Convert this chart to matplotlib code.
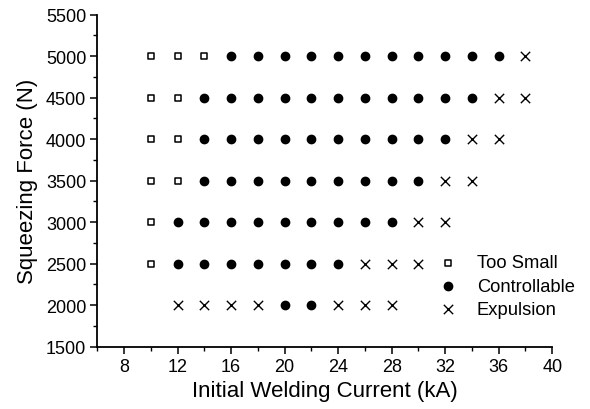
import matplotlib
matplotlib.use('Agg')
import matplotlib.pyplot as plt
from matplotlib.ticker import MultipleLocator

plt.rcParams['font.family'] = ['Liberation Sans', 'DejaVu Sans']

# Initial welding current (kA) / squeezing force (N) for each outcome
small_x = [10, 12, 14, 10, 12, 10, 12, 10, 12, 10, 10]
small_y = [5000, 5000, 5000, 4500, 4500, 4000, 4000, 3500, 3500, 3000, 2500]

ctrl_x = (list(range(16, 37, 2)) + list(range(14, 35, 2)) + list(range(14, 33, 2))
          + list(range(14, 31, 2)) + list(range(12, 29, 2)) + list(range(12, 25, 2))
          + [20, 22])
ctrl_y = ([5000] * 11 + [4500] * 11 + [4000] * 10 + [3500] * 9 + [3000] * 9
          + [2500] * 7 + [2000] * 2)

exp_x = [38, 36, 38, 34, 36, 32, 34, 30, 32, 26, 28, 30, 12, 14, 16, 18, 24, 26, 28]
exp_y = [5000, 4500, 4500, 4000, 4000, 3500, 3500, 3000, 3000, 2500, 2500, 2500,
         2000, 2000, 2000, 2000, 2000, 2000, 2000]

fig = plt.figure(figsize=(5.9, 4.1), dpi=100)
ax = fig.add_axes([0.165, 0.152, 0.771, 0.810])

ax.scatter(small_x, small_y, marker='s', s=22, facecolors='white',
           edgecolors='black', linewidths=1.1, label='Too Small')
ax.scatter(ctrl_x, ctrl_y, marker='o', s=36, color='black', label='Controllable')
ax.scatter(exp_x, exp_y, marker='x', s=45, color='black', linewidths=1.0,
           label='Expulsion')

ax.set_xlim(6, 40)
ax.set_ylim(1500, 5500)
ax.xaxis.set_major_locator(MultipleLocator(4))
ax.xaxis.set_minor_locator(MultipleLocator(2))
ax.yaxis.set_major_locator(MultipleLocator(500))
ax.yaxis.set_minor_locator(MultipleLocator(250))
ax.set_xticks(range(8, 41, 4))

ax.spines['top'].set_visible(False)
ax.spines['right'].set_visible(False)
ax.spines['left'].set_linewidth(1.3)
ax.spines['bottom'].set_linewidth(1.3)
ax.tick_params(which='major', direction='out', length=5, width=1.1,
               labelsize=13, pad=3)
ax.tick_params(which='minor', direction='out', length=3, width=1.0)

ax.set_xlabel('Initial Welding Current (kA)', fontsize=16, labelpad=4)
ax.set_ylabel('Squeezing Force (N)', fontsize=16, labelpad=6)

ax.legend(loc='center left', bbox_to_anchor=(0.71, 0.182), frameon=False,
          fontsize=13.2, handletextpad=0.98, labelspacing=0.35, handlelength=1.2,
          borderpad=0.4)

fig.savefig('out.png', dpi=100)
